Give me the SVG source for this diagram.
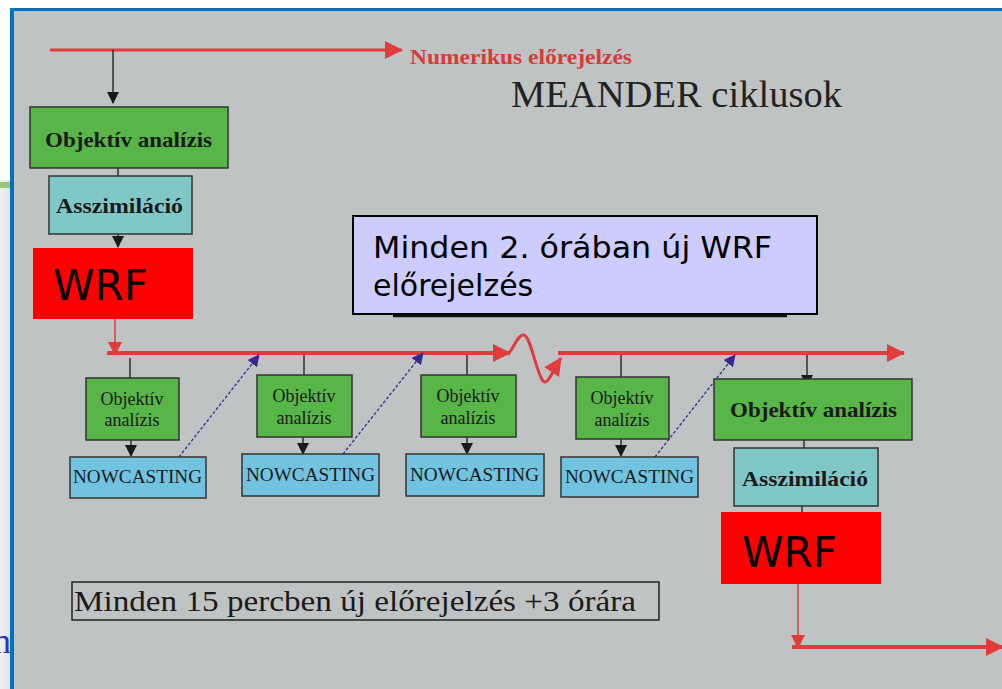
<svg xmlns="http://www.w3.org/2000/svg" width="1002" height="689" viewBox="0 0 1002 689">
<defs>
<style>
.bg{fill:#c0c3c4}
.gbox{fill:#58b547;stroke:#333;stroke-width:1.5}
.abox{fill:#80c8c8;stroke:#333;stroke-width:1.5}
.nbox{fill:#72c3e0;stroke:#333;stroke-width:1.5}
.wbox{fill:#ff0000}
.serif{font-family:"Liberation Serif","Times New Roman",serif;fill:#1a1a1a}
.bold{font-weight:bold}
.sans{font-family:"DejaVu Sans",Verdana,sans-serif;fill:#000}
.red{stroke:#e03c3c;fill:none}
.blk{stroke:#1a1a1a;stroke-width:1.3;fill:none}
.blue{stroke:#302c90;stroke-width:1.3;fill:none;stroke-dasharray:3 2}
</style>
<marker id="rArrow" markerUnits="userSpaceOnUse" viewBox="0 0 18 18" refX="17" refY="9" markerWidth="18" markerHeight="18" orient="auto"><path d="M0,0 L18,9 L0,18 Z" fill="#e03c3c"/></marker>
<marker id="rSmall" markerUnits="userSpaceOnUse" viewBox="0 0 14 14" refX="13" refY="7" markerWidth="14" markerHeight="14" orient="auto"><path d="M0,0 L14,7 L0,14 Z" fill="#e03c3c"/></marker>
<marker id="bArrow" markerUnits="userSpaceOnUse" viewBox="0 0 12 12" refX="11" refY="6" markerWidth="12" markerHeight="12" orient="auto"><path d="M0,0 L12,6 L0,12 Z" fill="#1a1a1a"/></marker>
<marker id="uArrow" markerUnits="userSpaceOnUse" viewBox="0 0 12 12" refX="11" refY="6" markerWidth="12" markerHeight="12" orient="auto"><path d="M0,0 L12,6 L0,12 Z" fill="#302c90"/></marker>
<linearGradient id="lg" x1="0" y1="0" x2="1" y2="0"><stop offset="0" stop-color="#eef0f1"/><stop offset="1" stop-color="#dfe2e4"/></linearGradient>
</defs>

<rect x="0" y="0" width="1002" height="689" fill="#ffffff"/>
<rect x="0" y="180" width="12" height="509" fill="url(#lg)"/>
<rect x="0" y="182" width="12" height="6" fill="#7cc05a" opacity="0.8"/>
<text x="-7" y="653" font-family="Liberation Serif,serif" font-size="36" fill="#3232c8">n</text>
<rect class="bg" x="12" y="10" width="990" height="679"/>
<rect x="10" y="8" width="992" height="3" fill="#0070c0"/>
<rect x="10" y="8" width="4" height="681" fill="#0070c0"/>

<text class="serif bold" x="410" y="64" font-size="20" style="fill:#d93a3a" textLength="222" lengthAdjust="spacingAndGlyphs">Numerikus előrejelzés</text>
<text class="serif" x="511" y="107" font-size="37" style="fill:#222" textLength="331" lengthAdjust="spacingAndGlyphs">MEANDER ciklusok</text>

<g id="connectors">
<line class="red" x1="50" y1="50" x2="402" y2="50" stroke-width="3" marker-end="url(#rArrow)"/>
<line class="blk" x1="113" y1="50" x2="113" y2="103" marker-end="url(#bArrow)"/>
<line class="blk" x1="118" y1="168" x2="118" y2="176"/>
<line class="blk" x1="118" y1="234" x2="118" y2="247" marker-end="url(#bArrow)"/>
<line class="red" x1="115" y1="319" x2="115" y2="355" stroke-width="1.5" marker-end="url(#rSmall)"/>
<line class="red" x1="107" y1="353" x2="510" y2="353" stroke-width="4" marker-end="url(#rArrow)"/>
<path class="red" d="M509,353 C515,346 518,334 524,335 C531,337 536,372 543,381 C548,386 553,370 561,358" stroke-width="3" marker-end="url(#rArrow)"/>
<line class="red" x1="558" y1="353" x2="904" y2="353" stroke-width="4" marker-end="url(#rArrow)"/>
<line class="blk" x1="130" y1="358" x2="130" y2="378"/>
<line class="blk" x1="131" y1="440" x2="131" y2="456" marker-end="url(#bArrow)"/>
<line class="blue" x1="179" y1="457" x2="259" y2="355" marker-end="url(#uArrow)"/>
<line class="blk" x1="304" y1="355" x2="304" y2="375"/>
<line class="blk" x1="303" y1="437" x2="303" y2="454" marker-end="url(#bArrow)"/>
<line class="blue" x1="343" y1="454" x2="423" y2="353" marker-end="url(#uArrow)"/>
<line class="blk" x1="467" y1="355" x2="467" y2="375"/>
<line class="blk" x1="467" y1="437" x2="467" y2="454" marker-end="url(#bArrow)"/>
<line class="blk" x1="621" y1="355" x2="621" y2="377"/>
<line class="blk" x1="621" y1="439" x2="621" y2="456" marker-end="url(#bArrow)"/>
<line class="blue" x1="655" y1="457" x2="735" y2="355" marker-end="url(#uArrow)"/>
<line class="blk" x1="807" y1="355" x2="807" y2="386" marker-end="url(#bArrow)"/>
<line class="blk" x1="804" y1="440" x2="804" y2="448"/>
<line class="blk" x1="802" y1="506" x2="802" y2="514" stroke-width="4"/>
<line class="red" x1="798" y1="584" x2="798" y2="648" stroke-width="1.5" marker-end="url(#rSmall)"/>
<line class="red" x1="792" y1="647" x2="1003" y2="647" stroke-width="4" marker-end="url(#rArrow)"/>
</g>

<g id="objektiv-top">
<rect class="gbox" x="30" y="107" width="198" height="61"/>
<text class="serif bold" x="45" y="147" font-size="21" textLength="167" lengthAdjust="spacingAndGlyphs">Objektív analízis</text>
</g>
<g id="asszimilacio-top">
<rect class="abox" x="49" y="176" width="143" height="58"/>
<text class="serif bold" x="56" y="213" font-size="21" textLength="127" lengthAdjust="spacingAndGlyphs">Asszimiláció</text>
</g>
<g id="wrf-top">
<rect class="wbox" x="33" y="248" width="160" height="71"/>
<text class="sans" x="53" y="300" font-size="42">WRF</text>
</g>

<g id="info-box">
<line x1="393" y1="316" x2="787" y2="316" stroke="#111" stroke-width="2.5"/>
<rect x="353" y="216" width="464" height="98" fill="#ccccff" stroke="#000" stroke-width="2"/>
<text class="sans" x="373" y="258" font-size="30" textLength="399" lengthAdjust="spacingAndGlyphs">Minden 2. órában új WRF</text>
<text class="sans" x="373" y="296" font-size="30">előrejelzés</text>
</g>

<g id="oa1">
<rect class="gbox" x="86" y="378" width="93" height="62"/>
<text class="serif" x="132" y="405" font-size="18" text-anchor="middle">Objektív</text>
<text class="serif" x="132" y="426" font-size="18" text-anchor="middle">analízis</text>
</g>
<g id="nc1">
<rect class="nbox" x="70" y="457" width="136" height="41"/>
<text class="serif" x="73" y="483" font-size="19" textLength="129" lengthAdjust="spacingAndGlyphs">NOWCASTING</text>
</g>

<g id="oa2">
<rect class="gbox" x="257" y="375" width="95" height="62"/>
<text class="serif" x="304" y="402" font-size="18" text-anchor="middle">Objektív</text>
<text class="serif" x="304" y="424" font-size="18" text-anchor="middle">analízis</text>
</g>
<g id="nc2">
<rect class="nbox" x="242" y="454" width="137" height="42"/>
<text class="serif" x="246" y="481" font-size="19" textLength="129" lengthAdjust="spacingAndGlyphs">NOWCASTING</text>
</g>

<g id="oa3">
<rect class="gbox" x="421" y="375" width="95" height="62"/>
<text class="serif" x="468" y="402" font-size="18" text-anchor="middle">Objektív</text>
<text class="serif" x="468" y="424" font-size="18" text-anchor="middle">analízis</text>
</g>
<g id="nc3">
<rect class="nbox" x="406" y="454" width="138" height="42"/>
<text class="serif" x="410" y="481" font-size="19" textLength="129" lengthAdjust="spacingAndGlyphs">NOWCASTING</text>
</g>

<g id="oa4">
<rect class="gbox" x="576" y="377" width="93" height="62"/>
<text class="serif" x="622" y="404" font-size="18" text-anchor="middle">Objektív</text>
<text class="serif" x="622" y="426" font-size="18" text-anchor="middle">analízis</text>
</g>
<g id="nc4">
<rect class="nbox" x="561" y="457" width="137" height="40"/>
<text class="serif" x="565" y="483" font-size="19" textLength="129" lengthAdjust="spacingAndGlyphs">NOWCASTING</text>
</g>

<g id="objektiv-right">
<rect class="gbox" x="714" y="379" width="198" height="61"/>
<text class="serif bold" x="730" y="417" font-size="21" textLength="167" lengthAdjust="spacingAndGlyphs">Objektív analízis</text>
</g>
<g id="asszimilacio-right">
<rect class="abox" x="734" y="448" width="144" height="58"/>
<text class="serif bold" x="742" y="486" font-size="21" textLength="126" lengthAdjust="spacingAndGlyphs">Asszimiláció</text>
</g>
<g id="wrf-right">
<rect class="wbox" x="721" y="512" width="160" height="72"/>
<text class="sans" x="742" y="567" font-size="42">WRF</text>
</g>

<g id="note-15">
<rect x="72" y="582" width="587" height="38" fill="none" stroke="#222" stroke-width="1.5"/>
<text class="serif" x="74" y="611" font-size="29" textLength="562" lengthAdjust="spacingAndGlyphs">Minden 15 percben új előrejelzés +3 órára</text>
</g>
</svg>
